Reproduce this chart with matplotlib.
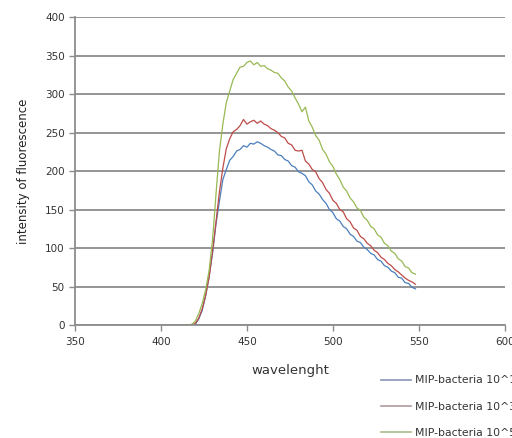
import numpy as np
import matplotlib
matplotlib.use('Agg')
import matplotlib.pyplot as plt

# wavelength grid (nm), 2 nm steps
wavelength = np.arange(350, 550, 2)

baseline = [0] * 33  # 350..414

blue = baseline + [
    0, 0, 1, 8, 19, 38, 63, 93, 131, 161, 189, 202, 214, 219, 226, 228,
    233, 231, 236, 235, 238, 236, 233, 231, 228, 226, 221, 220, 215, 213,
    207, 205, 199, 197, 194, 186, 182, 174, 170, 163, 158, 150, 146, 138,
    135, 128, 125, 118, 115, 109, 107, 101, 98, 93, 91, 85, 83, 77, 75, 70,
    68, 62, 61, 55, 54, 49, 47,
]

red = baseline + [
    0, 0, 2, 9, 21, 39, 62, 96, 134, 173, 204, 229, 242, 251, 254, 259,
    267, 261, 264, 266, 262, 265, 261, 259, 255, 253, 250, 245, 243, 236,
    234, 227, 226, 227, 213, 209, 202, 199, 190, 185, 176, 171, 162, 158,
    150, 147, 138, 134, 126, 123, 115, 112, 106, 103, 97, 94, 88, 85, 80,
    77, 72, 69, 65, 61, 58, 56, 53,
]

green = baseline + [
    0, 1, 5, 15, 28, 46, 71, 111, 170, 226, 261, 289, 304, 319, 327, 335,
    336, 341, 343, 338, 341, 336, 337, 333, 331, 328, 327, 321, 317, 309,
    304, 295, 287, 277, 283, 265, 257, 246, 240, 228, 222, 212, 206, 196,
    189, 179, 174, 165, 160, 152, 149, 140, 136, 128, 125, 117, 114, 106,
    103, 96, 93, 86, 83, 76, 74, 68, 66,
]

labels = ['MIP-bacteria 10^1', 'MIP-bacteria 10^3', 'MIP-bacteria 10^5']
colors = ['#4a7ebb', '#be4b48', '#98b954']
legend_colors = ['#8a93b8', '#b09a9c', '#a9bf8a']

fig = plt.figure(figsize=(5.12, 4.38), dpi=100)
ax = fig.add_axes([0.1465, 0.258, 0.8395, 0.703])

for series, c in zip([blue, red, green], colors):
    ax.plot(wavelength, series, color=c, linewidth=0.9)

ax.set_xlim(350, 600)
ax.set_ylim(0, 400)
ax.set_xticks(np.arange(350, 601, 50))
ax.set_yticks(np.arange(0, 401, 50))
ax.yaxis.grid(True, color='#8c8c8c', linewidth=1.3)
ax.set_axisbelow(True)
for side in ['top', 'right']:
    ax.spines[side].set_visible(False)
for side in ['left', 'bottom']:
    ax.spines[side].set_color('#8c8c8c')
    ax.spines[side].set_linewidth(1.3)
ax.tick_params(axis='both', colors='#8c8c8c', labelcolor='#333333',
               labelsize=7.5, length=4, width=1)
ax.tick_params(axis='x', pad=5)

ax.set_xlabel('wavelenght', fontsize=9.5, color='#333333', labelpad=12)
ax.set_ylabel('intensity of fluorescence', fontsize=8.5, color='#222222',
              labelpad=11)

handles = [plt.Line2D([], [], color=c, linewidth=1.2) for c in legend_colors]
fig.legend(handles, labels, loc='upper left', bbox_to_anchor=(0.744, 0.143),
           frameon=False, fontsize=7.8, labelspacing=1.5, handlelength=2.8,
           handletextpad=0.3, borderaxespad=0, borderpad=0,
           labelcolor='#333333')

fig.savefig('out.png', dpi=100)
